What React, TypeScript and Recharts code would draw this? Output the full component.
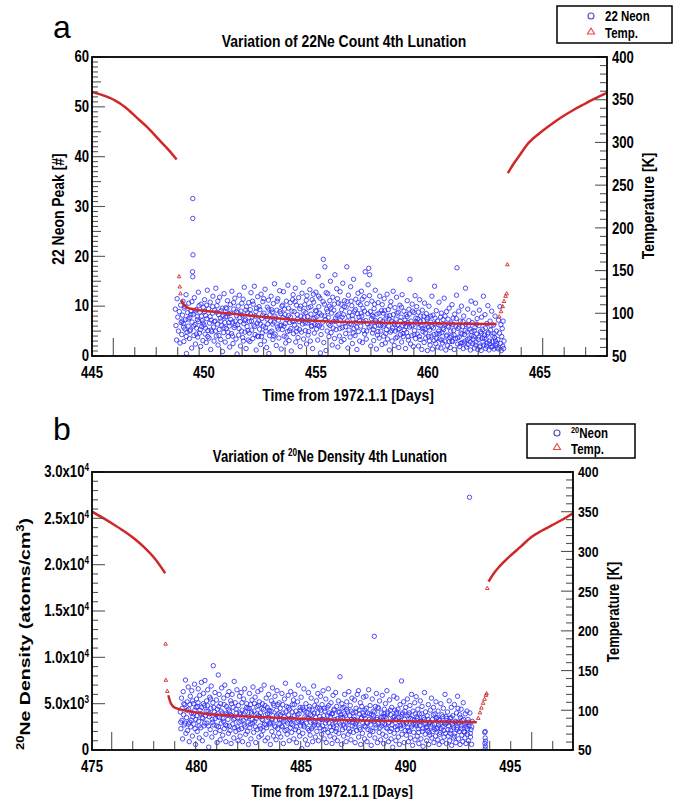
import React from 'react';
import { ScatterChart, Scatter, XAxis, YAxis } from 'recharts';

const RED = '#d02828';
const BLUE = '#2f2ff5';
const TICK = '#555';
const FONT = "'Liberation Sans', Arial, sans-serif";
const NARROW = 0.82; // the reference uses a condensed face

// ---------- panel a : 22Ne count ----------
const neonA = [
  [448.72,9.4],[448.75,6.1],[448.78,3.2],[448.8,11.5],[448.83,7.8],[448.86,5.0],[448.9,8.9],[448.93,2.6],[448.96,10.2],[448.98,6.7],
  [449.01,4.3],[449.04,8.2],[449.06,11.0],[449.08,6.5],[449.1,2.9],[449.12,9.6],[449.15,5.4],[449.17,7.3],[449.2,12.3],[449.22,0.5],[449.24,4.8],[449.27,8.7],[449.3,6.0],[449.32,10.6],[449.35,3.5],[449.37,7.7],[449.4,5.2],[449.42,9.0],[449.45,1.6],[449.47,6.8],[449.5,31.6],[449.5,27.6],[449.51,20.3],[449.49,16.9],[449.5,15.9],
  [449.52,8.4],[449.55,4.1],[449.57,11.7],[449.6,6.3],[449.62,2.4],[449.65,9.3],[449.67,5.6],[449.7,7.9],[449.72,3.8],[449.75,12.8],[449.77,6.9],[449.8,4.6],[449.82,8.8],[449.85,1.9],[449.87,10.4],[449.9,5.9],[449.92,7.1],[449.95,3.1],[449.97,9.8],
  [450.0,6.2],[450.03,11.3],[450.05,4.4],[450.08,8.1],[450.1,2.7],[450.13,7.5],[450.15,13.2],[450.18,5.1],[450.2,9.5],[450.23,3.6],[450.25,6.6],[450.28,10.8],[450.3,1.3],[450.33,7.2],[450.35,4.9],[450.38,8.6],[450.4,12.0],[450.43,5.8],[450.45,3.0],[450.48,9.2],
  [450.5,7.0],[450.53,13.6],[450.55,4.0],[450.58,10.1],[450.6,6.4],[450.63,2.2],[450.65,8.3],[450.68,5.3],[450.7,11.8],[450.73,7.6],[450.75,3.3],[450.78,9.1],[450.8,6.1],[450.83,0.9],[450.85,8.0],[450.88,4.7],[450.9,12.5],[450.93,6.7],[450.95,2.8],[450.98,9.7],
  [451.0,5.5],[451.03,7.9],[451.05,11.1],[451.08,3.9],[451.1,8.5],[451.13,6.0],[451.15,1.8],[451.18,10.3],[451.2,7.3],[451.23,4.5],[451.25,13.0],[451.28,6.8],[451.3,2.5],[451.33,9.4],[451.35,5.7],[451.38,11.6],[451.4,7.0],[451.43,3.4],[451.45,8.9],[451.48,0.4],
  [451.5,6.3],[451.53,10.0],[451.55,4.2],[451.58,12.2],[451.6,7.7],[451.63,2.0],[451.65,9.0],[451.68,5.0],[451.7,8.2],[451.73,3.7],[451.75,11.4],[451.78,6.5],[451.8,13.8],[451.83,4.8],[451.85,7.4],[451.88,1.5],[451.9,9.9],[451.93,5.9],[451.95,8.7],[451.98,3.2],
  [452.0,10.7],[452.03,6.9],[452.05,2.9],[452.08,8.4],[452.1,12.7],[452.13,5.2],[452.15,7.8],[452.18,3.5],[452.2,10.4],[452.23,6.2],[452.25,14.0],[452.28,4.3],[452.3,8.0],[452.33,1.2],[452.35,9.6],[452.38,6.6],[452.4,11.9],[452.43,3.9],[452.45,7.1],[452.48,5.4],
  [452.5,9.3],[452.53,2.3],[452.55,12.4],[452.58,7.5],[452.6,4.6],[452.63,10.9],[452.65,6.0],[452.68,8.6],[452.7,3.0],[452.73,13.4],[452.75,5.7],[452.78,7.9],[452.8,1.7],[452.83,9.8],[452.85,6.4],[452.88,11.2],[452.9,0.5],[452.93,4.1],[452.95,8.3],[452.98,7.0],
  [453.0,12.0],[453.03,5.0],[453.05,8.8],[453.08,3.3],[453.1,10.5],[453.13,6.8],[453.15,14.5],[453.18,4.4],[453.2,7.6],[453.23,2.1],[453.25,9.2],[453.28,5.8],[453.3,11.5],[453.33,7.2],[453.35,3.6],[453.38,13.1],[453.4,6.1],[453.43,8.5],[453.45,1.4],[453.48,10.0],
  [453.5,5.3],[453.53,7.7],[453.55,12.9],[453.58,4.0],[453.6,9.4],[453.63,6.5],[453.65,2.6],[453.68,11.0],[453.7,7.3],[453.73,4.9],[453.75,14.2],[453.78,8.1],[453.8,3.1],[453.83,6.7],[453.85,10.7],[453.88,5.5],[453.9,1.0],[453.93,9.0],[453.95,7.0],[453.98,12.3],
  [454.0,4.5],[454.03,8.9],[454.05,6.2],[454.08,13.6],[454.1,2.8],[454.13,10.2],[454.15,5.6],[454.18,7.4],[454.2,3.7],[454.23,11.7],[454.25,6.9],[454.28,9.5],[454.3,1.9],[454.33,8.0],[454.35,4.8],[454.38,12.6],[454.4,6.4],[454.43,14.8],[454.45,3.4],[454.48,7.8],
  [454.5,10.3],[454.53,5.1],[454.55,8.7],[454.58,2.4],[454.6,12.1],[454.63,6.6],[454.65,4.2],[454.68,9.7],[454.7,7.1],[454.73,13.3],[454.75,3.0],[454.78,8.4],[454.8,5.9],[454.83,11.3],[454.85,1.5],[454.88,7.5],[454.9,10.8],[454.93,4.6],[454.95,6.3],[454.98,9.1],
  [455.0,12.8],[455.03,5.4],[455.05,7.9],[455.08,3.2],[455.1,16.0],[455.13,9.9],[455.15,6.0],[455.18,11.6],[455.2,0.6],[455.23,4.3],[455.25,8.2],[455.28,14.1],[455.3,6.8],[455.33,19.4],[455.35,2.7],[455.38,10.4],[455.4,17.9],[455.43,7.3],[455.45,1.1],[455.48,9.4],
  [455.5,5.0],[455.53,12.5],[455.55,7.7],[455.58,3.9],[455.6,10.0],[455.63,6.1],[455.65,15.0],[455.68,4.7],[455.7,8.6],[455.73,2.2],[455.75,11.8],[455.78,6.9],[455.8,9.2],[455.83,3.5],[455.85,16.3],[455.88,7.6],[455.9,5.3],[455.93,13.5],[455.95,8.1],[455.98,1.8],
  [456.0,10.6],[456.03,6.4],[456.05,4.0],[456.08,12.9],[456.1,7.2],[456.13,2.9],[456.15,9.3],[456.18,5.7],[456.2,14.6],[456.23,8.3],[456.25,3.3],[456.28,11.1],[456.3,6.6],[456.33,4.5],[456.35,9.8],[456.38,17.9],[456.4,7.0],[456.43,1.6],[456.45,12.2],[456.48,5.2],
  [456.5,8.8],[456.53,3.8],[456.55,13.9],[456.58,6.3],[456.6,10.1],[456.63,2.5],[456.65,7.4],[456.68,15.4],[456.7,5.5],[456.73,9.0],[456.75,4.1],[456.78,11.4],[456.8,6.7],[456.83,1.3],[456.85,8.5],[456.88,12.6],[456.9,4.9],[456.93,7.8],[456.95,3.0],[456.98,10.3],
  [457.0,6.0],[457.03,13.0],[457.05,8.0],[457.08,2.7],[457.1,9.6],[457.13,5.1],[457.15,11.9],[457.18,4.4],[457.2,16.9],[457.23,7.1],[457.25,3.4],[457.28,10.5],[457.3,6.5],[457.33,14.3],[457.36,17.6],[457.38,5.8],[457.4,16.3],[457.43,8.9],[457.45,2.0],[457.48,7.5],
  [457.5,11.0],[457.53,4.6],[457.55,7.9],[457.58,3.1],[457.6,9.5],[457.63,5.9],[457.65,13.2],[457.68,6.8],[457.7,1.4],[457.73,8.4],[457.75,4.2],[457.78,10.7],[457.8,6.2],[457.83,3.6],[457.85,12.0],[457.88,7.3],[457.9,5.0],[457.93,9.1],[457.95,2.3],[457.98,6.9],
  [458.0,8.6],[458.03,4.0],[458.05,11.5],[458.08,6.4],[458.1,2.6],[458.13,7.6],[458.15,5.3],[458.18,12.4],[458.2,3.4],[458.23,9.3],[458.25,6.0],[458.28,1.2],[458.3,8.1],[458.33,4.8],[458.35,10.9],[458.38,7.0],[458.4,3.0],[458.43,5.6],[458.45,13.0],[458.48,6.6],
  [458.5,2.1],[458.53,9.7],[458.55,5.0],[458.58,7.4],[458.6,11.8],[458.63,3.8],[458.65,6.3],[458.68,8.8],[458.7,1.7],[458.73,5.5],[458.75,10.2],[458.78,4.3],[458.8,7.8],[458.83,2.8],[458.85,12.3],[458.88,6.1],[458.9,3.9],[458.93,9.0],[458.95,5.2],[458.98,7.2],
  [459.0,1.5],[459.03,8.3],[459.05,4.7],[459.08,11.1],[459.1,6.7],[459.13,3.2],[459.15,9.4],[459.18,5.8],[459.2,15.4],[459.23,2.4],[459.25,7.0],[459.28,4.1],[459.3,10.4],[459.33,6.2],[459.35,1.9],[459.38,8.7],[459.4,5.1],[459.43,12.1],[459.45,3.5],[459.48,6.9],
  [459.5,9.9],[459.53,4.4],[459.55,7.5],[459.58,2.0],[459.6,5.7],[459.63,11.3],[459.65,3.3],[459.68,8.0],[459.7,6.0],[459.73,1.3],[459.75,9.2],[459.78,4.9],[459.8,7.1],[459.83,2.7],[459.85,10.6],[459.88,5.4],[459.9,3.6],[459.93,8.5],[459.95,6.4],[459.98,1.1],
  [460.0,7.7],[460.03,3.9],[460.05,10.0],[460.08,5.2],[460.1,2.2],[460.13,6.8],[460.15,4.0],[460.18,12.0],[460.2,1.4],[460.23,8.2],[460.25,5.6],[460.28,3.1],[460.3,14.0],[460.33,6.5],[460.35,2.5],[460.38,9.1],[460.4,4.5],[460.43,7.0],[460.45,1.8],[460.48,5.0],
  [460.5,10.8],[460.53,3.4],[460.55,6.1],[460.58,1.6],[460.6,8.6],[460.63,4.7],[460.65,2.6],[460.68,7.3],[460.7,5.3],[460.73,11.6],[460.75,3.0],[460.78,6.4],[460.8,1.2],[460.83,8.9],[460.85,4.2],[460.88,2.1],[460.9,7.4],[460.93,5.8],[460.95,9.6],[460.98,3.7],
  [461.0,1.7],[461.03,6.6],[461.05,4.0],[461.08,10.3],[461.1,2.9],[461.13,7.6],[461.15,5.1],[461.18,1.3],[461.2,8.4],[461.23,3.5],[461.25,6.0],[461.28,12.2],[461.3,17.7],[461.33,2.4],[461.35,5.5],[461.38,9.0],[461.4,3.8],[461.43,1.9],[461.45,7.0],[461.48,4.6],
  [461.5,10.0],[461.53,2.7],[461.55,5.9],[461.58,1.5],[461.6,8.0],[461.63,4.3],[461.65,3.0],[461.68,13.6],[461.7,6.3],[461.73,1.8],[461.75,4.8],[461.78,9.4],[461.8,2.3],[461.83,7.1],[461.85,3.6],[461.88,5.4],[461.9,1.2],[461.93,11.0],[461.95,4.1],[461.98,6.7],
  [462.0,2.5],[462.03,8.6],[462.05,3.9],[462.08,1.6],[462.1,5.7],[462.13,10.6],[462.15,2.8],[462.18,4.4],[462.2,7.5],[462.23,1.3],[462.25,3.3],[462.28,6.1],[462.3,9.2],[462.33,2.0],[462.35,4.9],[462.38,1.1],[462.4,7.8],[462.43,3.6],[462.45,5.3],[462.48,12.0],
  [462.5,2.2],[462.53,4.2],[462.55,8.3],[462.58,1.5],[462.6,3.4],[462.63,6.5],[462.65,2.6],[462.68,10.1],[462.7,4.7],[462.73,1.2],[462.75,3.0],[462.78,7.0],[462.8,5.2],[462.83,1.8],[462.85,9.0],[462.88,2.9],[462.9,4.0],[462.93,6.2],[462.95,1.4],[462.98,3.7],[463.0,8.0],[463.03,2.1],[463.06,5.0],[463.09,1.6],
  [463.12,3.3],[463.15,7.2],[463.17,1.4],[463.2,4.6],[463.22,9.9],[463.24,2.5],[463.26,6.3],[463.28,1.1],[463.3,3.9],[463.32,5.5],[463.34,2.0],[463.36,7.0],[463.38,1.5],[463.4,3.0],
  // denser core of the cloud
  [449.02,7.0],[449.09,5.8],[449.16,9.9],[449.21,3.9],[449.29,7.4],[449.36,5.0],[449.41,8.3],[449.46,10.9],
  [449.54,6.0],[449.61,9.0],[449.66,4.4],[449.71,7.3],[449.78,10.1],[449.84,5.3],[449.89,8.0],[449.96,6.6],
  [450.02,8.9],[450.07,5.6],[450.12,10.2],[450.17,3.9],[450.27,7.9],[450.32,5.2],[450.39,9.9],[450.46,6.9],
  [450.52,5.0],[450.57,8.8],[450.62,11.0],[450.67,4.1],[450.76,7.0],[450.82,9.6],[450.89,5.7],[450.96,7.8],
  [451.02,9.5],[451.07,4.8],[451.12,6.7],[451.19,8.6],[451.27,4.0],[451.32,10.7],[451.39,6.1],[451.46,8.1],
  [451.52,8.7],[451.57,5.5],[451.62,6.9],[451.69,10.6],[451.76,3.0],[451.82,7.1],[451.87,9.2],[451.96,5.1],
  [452.02,4.6],[452.07,9.3],[452.12,7.0],[452.17,11.0],[452.27,5.9],[452.32,8.9],[452.39,4.0],[452.46,9.9],
  [452.52,6.4],[452.57,3.9],[452.62,8.2],[452.67,11.5],[452.77,5.0],[452.82,7.4],[452.89,9.4],[452.96,4.8],
  [453.02,9.3],[453.07,6.4],[453.12,4.0],[453.17,8.0],[453.27,11.0],[453.32,5.4],[453.39,8.9],[453.46,6.2],
  [453.52,10.2],[453.57,6.0],[453.62,8.3],[453.67,3.8],[453.77,9.6],[453.82,5.1],[453.87,7.8],[453.96,11.3],
  [454.02,7.0],[454.07,10.9],[454.12,4.9],[454.17,8.3],[454.27,5.3],[454.32,10.0],[454.39,7.2],[454.46,9.0],
  [454.52,6.6],[454.57,11.2],[454.62,7.9],[454.67,4.9],[454.77,9.9],[454.82,6.1],[454.89,12.4],[454.96,7.7],
  [455.02,9.0],[455.07,6.2],[455.12,12.0],[455.17,8.6],[455.27,5.7],[455.32,10.9],[455.39,8.0],[455.46,12.7],
  [455.52,8.9],[455.57,6.4],[455.62,11.1],[455.67,9.6],[455.77,5.6],[455.82,10.4],[455.89,7.0],[455.96,11.5],
  [456.02,8.4],[456.07,5.5],[456.12,10.4],[456.17,7.8],[456.27,9.9],[456.32,5.9],[456.39,10.9],[456.46,8.0],
  [456.52,6.5],[456.57,11.0],[456.62,8.1],[456.67,4.6],[456.77,9.3],[456.82,5.8],[456.89,10.7],[456.96,7.1],
  [457.02,8.6],[457.07,11.4],[457.12,6.9],[457.17,9.0],[457.27,5.0],[457.32,8.5],[457.39,12.1],[457.46,6.0],
  [457.52,8.2],[457.57,5.3],[457.62,10.4],[457.67,7.1],[457.77,4.9],[457.82,8.6],[457.89,6.1],[457.96,10.3],
  [458.02,6.0],[458.07,9.1],[458.12,4.5],[458.17,8.0],[458.27,7.4],[458.32,10.0],[458.39,5.1],[458.46,8.3],
  [458.52,6.3],[458.57,3.6],[458.62,8.6],[458.67,5.3],[458.77,7.0],[458.82,9.8],[458.89,4.5],[458.96,6.5],
  [459.02,5.9],[459.07,7.9],[459.12,3.9],[459.17,8.4],[459.27,6.0],[459.32,9.0],[459.39,4.3],[459.46,7.6],
  [459.52,6.6],[459.57,8.8],[459.62,3.9],[459.67,6.9],[459.77,5.5],[459.82,8.0],[459.89,4.6],[459.96,7.4],
  [460.02,5.8],[460.07,3.0],[460.12,8.0],[460.17,5.9],[460.27,4.3],[460.32,7.6],[460.39,3.5],[460.46,6.3],
  [460.52,4.5],[460.57,7.8],[460.62,3.2],[460.67,5.6],[460.77,8.0],[460.82,4.0],[460.89,6.0],[460.96,2.9],
  [461.02,5.0],[461.07,3.0],[461.12,6.3],[461.17,4.2],[461.27,7.5],[461.32,3.6],[461.39,5.8],[461.46,2.5],
  [461.52,4.4],[461.57,6.9],[461.62,2.6],[461.67,5.1],[461.77,3.3],[461.82,6.0],[461.89,2.8],[461.96,4.9],
  [462.02,3.4],[462.07,5.1],[462.12,2.2],[462.17,6.4],[462.27,3.8],[462.32,1.8],[462.39,4.6],[462.46,2.8],
  [462.52,3.6],[462.57,5.6],[462.62,2.0],[462.67,4.4],[462.77,2.4],[462.82,6.1],[462.89,1.9],[462.96,4.5],[463.02,3.0],[463.08,2.5],
];

const tempA1 = [[445,359],[445.5,355],[446,349.5],[446.5,341],[447,329],[447.5,317],[448,303],[448.5,289],[448.78,280]];
const tempA2 = [[449.0,115.6],[449.1,110],[449.23,107],[449.5,105],[449.82,103.5],[450.5,101.5],[451.3,99.5],[452,97.5],[453,94.8],[454,92.5],[455,91.2],[456,90.1],[457,89.5],[458,89],[459,88.6],[460,88.3],[461,88],[462,87.7],[463.07,87.5]];
const tempA3 = [[463.57,264],[463.83,275],[464.1,285],[464.42,297],[465,311],[465.5,321],[466,330],[466.5,338],[467,345],[467.5,352],[468,358]];
const tempADots = [[448.89,143],[448.92,131],[448.95,123],[463.19,96],[463.27,102],[463.34,108],[463.4,114],[463.47,120],[463.52,123],[463.55,157]];

// ---------- panel b : 20Ne density ----------
const neonB = [
  [479.22,4100],[479.25,2300],[479.28,5600],[479.3,3200],[479.33,1200],[479.36,6300],[479.38,3800],[479.41,2700],[479.44,4900],[479.47,7550],[479.49,1800],
  [479.52,3500],[479.55,5200],[479.57,2100],[479.6,6800],[479.62,4400],[479.65,900],[479.67,3000],[479.7,5800],[479.72,2500],[479.75,4000],[479.77,6400],[479.8,1500],[479.82,3600],[479.85,5000],[479.87,2800],[479.9,7100],[479.92,4300],[479.95,600],[479.97,3300],
  [480.0,5500],[480.03,2000],[480.05,4700],[480.08,6600],[480.1,3100],[480.13,1300],[480.15,5900],[480.18,3900],[480.2,2400],[480.23,7300],[480.25,4600],[480.28,1000],[480.3,3400],[480.33,6100],[480.35,2600],[480.38,4800],[480.4,7500],[480.43,3700],[480.45,1700],[480.48,5300],
  [480.5,2900],[480.53,6500],[480.55,4200],[480.58,300],[480.6,3600],[480.63,5700],[480.65,2200],[480.68,4500],[480.7,6900],[480.73,1400],[480.75,3300],[480.78,5100],[480.8,9100],[480.83,2700],[480.85,4100],[480.88,6200],[480.9,1900],[480.93,3800],[480.95,5400],[480.98,800],
  [481.0,4400],[481.04,8100],[481.05,2500],[481.08,6000],[481.1,3500],[481.13,1100],[481.15,5000],[481.18,2900],[481.2,6700],[481.23,4000],[481.25,1600],[481.28,3100],[481.3,5600],[481.33,2300],[481.35,7000],[481.38,3900],[481.4,900],[481.43,4700],[481.45,2600],[481.48,5900],
  [481.5,3300],[481.53,1800],[481.55,6300],[481.58,4200],[481.6,2100],[481.63,5300],[481.65,700],[481.68,3700],[481.7,6000],[481.73,2800],[481.75,4600],[481.78,1300],[481.8,7400],[481.83,3400],[481.85,5100],[481.88,2000],[481.9,4000],[481.93,6500],[481.95,2500],[481.98,1000],
  [482.0,4800],[482.03,3000],[482.05,5800],[482.08,1500],[482.1,3800],[482.13,6200],[482.15,2300],[482.18,4300],[482.2,900],[482.23,3200],[482.25,5500],[482.28,2700],[482.3,6600],[482.33,4100],[482.35,1700],[482.38,3500],[482.4,5000],[482.43,2000],[482.45,4500],[482.48,600],
  [482.5,3600],[482.53,6100],[482.55,2400],[482.58,4900],[482.6,1200],[482.63,3900],[482.65,5400],[482.68,2900],[482.7,6800],[482.73,1900],[482.75,4200],[482.78,3100],[482.8,5700],[482.83,800],[482.85,3400],[482.88,4700],[482.9,2200],[482.93,6300],[482.95,3700],[482.98,1400],
  [483.0,5200],[483.03,2600],[483.05,4000],[483.08,6500],[483.1,1600],[483.13,3300],[483.15,5000],[483.18,2100],[483.2,4400],[483.23,7000],[483.25,2800],[483.28,1000],[483.3,3800],[483.33,5600],[483.35,2400],[483.38,4600],[483.4,1300],[483.43,3500],[483.45,6000],[483.48,2900],
  [483.5,4200],[483.53,600],[483.55,3000],[483.58,5300],[483.6,2000],[483.63,6700],[483.65,3700],[483.68,1500],[483.7,4800],[483.73,2600],[483.75,5800],[483.78,3200],[483.8,1100],[483.83,4300],[483.85,6400],[483.88,2300],[483.9,3900],[483.93,1800],[483.95,5100],[483.98,2800],
  [484.0,4500],[484.03,1400],[484.05,3300],[484.08,6100],[484.1,2500],[484.13,4000],[484.15,700],[484.18,3600],[484.2,5500],[484.23,2100],[484.25,7200],[484.28,3100],[484.3,4700],[484.33,1700],[484.35,2900],[484.38,5900],[484.4,3800],[484.43,1000],[484.45,4400],[484.48,2400],
  [484.5,6300],[484.53,3400],[484.55,1900],[484.58,4900],[484.6,2700],[484.63,5400],[484.65,1200],[484.68,3700],[484.7,6000],[484.73,2200],[484.75,4200],[484.78,800],[484.8,3000],[484.83,5200],[484.87,7000],[484.88,2000],[484.9,3900],[484.93,1500],[484.95,4600],[484.98,2600],
  [485.0,5700],[485.03,150],[485.05,3200],[485.08,1800],[485.1,4400],[485.13,6600],[485.15,2500],[485.18,3600],[485.2,1100],[485.23,5000],[485.25,2900],[485.28,4100],[485.3,600],[485.33,3400],[485.35,6200],[485.38,2100],[485.4,4700],[485.43,1600],[485.45,3800],[485.48,5600],
  [485.5,2300],[485.53,4300],[485.55,900],[485.58,3100],[485.6,6900],[485.63,2700],[485.65,4800],[485.68,1400],[485.7,3500],[485.73,5300],[485.75,2000],[485.78,4000],[485.8,6100],[485.83,1000],[485.85,3000],[485.88,4500],[485.9,2400],[485.93,5800],[485.95,3300],[485.98,1700],
  [486.0,4900],[486.03,2600],[486.05,6400],[486.08,3700],[486.1,1200],[486.13,4200],[486.15,2200],[486.18,5500],[486.2,800],[486.23,3200],[486.25,4600],[486.28,1900],[486.3,6600],[486.33,2900],[486.35,4000],[486.38,1500],[486.4,3600],[486.43,5100],[486.45,2100],[486.48,700],
  [486.5,3900],[486.53,5900],[486.55,2500],[486.58,4400],[486.6,1300],[486.63,3000],[486.65,6200],[486.68,2300],[486.7,4700],[486.73,1000],[486.75,3400],[486.78,5300],[486.8,1800],[486.83,4100],[486.86,7900],[486.88,2700],[486.9,3800],[486.93,600],[486.95,5000],[486.98,2200],
  [487.0,3500],[487.03,1500],[487.05,4600],[487.08,6000],[487.1,2400],[487.13,3700],[487.15,900],[487.18,5200],[487.2,2900],[487.23,4200],[487.25,1700],[487.28,6300],[487.3,3100],[487.33,2000],[487.35,4800],[487.38,1100],[487.4,3300],[487.43,5600],[487.45,2600],[487.48,4000],
  [487.5,1900],[487.53,3600],[487.55,5400],[487.58,800],[487.6,2800],[487.63,4500],[487.65,2100],[487.68,6000],[487.7,3200],[487.74,6400],[487.75,1400],[487.78,3900],[487.8,2400],[487.83,5100],[487.85,600],[487.88,3400],[487.9,4700],[487.93,1800],[487.95,2900],[487.98,5700],
  [488.0,3700],[488.03,1200],[488.05,4300],[488.08,2500],[488.1,5800],[488.13,3000],[488.15,900],[488.18,4000],[488.2,2200],[488.23,6500],[488.25,3300],[488.28,1600],[488.3,4800],[488.33,2700],[488.35,500],[488.38,3800],[488.4,5500],[488.43,2000],[488.45,4200],[488.5,12270],
  [488.5,3100],[488.53,1300],[488.55,4700],[488.58,2400],[488.6,6100],[488.63,3500],[488.65,800],[488.68,2900],[488.7,4500],[488.73,1900],[488.75,5300],[488.78,3200],[488.8,1100],[488.83,4000],[488.85,2600],[488.88,5900],[488.9,1700],[488.93,3600],[488.95,700],[488.98,4400],
  [489.0,2800],[489.03,5000],[489.05,1500],[489.08,3400],[489.1,6400],[489.13,2300],[489.15,4100],[489.18,900],[489.2,3000],[489.23,5400],[489.25,2000],[489.28,3800],[489.3,1200],[489.33,4600],[489.35,2700],[489.38,300],[489.4,3500],[489.43,5800],[489.45,1800],[489.48,4300],
  [489.5,2500],[489.53,1000],[489.55,3900],[489.58,5600],[489.6,2200],[489.63,4400],[489.65,1400],[489.68,3100],[489.7,600],[489.73,4900],[489.75,2600],[489.78,3600],[489.8,7450],[489.82,1700],[489.85,4000],[489.88,2900],[489.9,5200],[489.93,800],[489.95,3300],[489.98,2100],
  [490.0,4600],[490.03,1600],[490.05,3000],[490.08,5500],[490.1,2400],[490.13,900],[490.15,3800],[490.18,2000],[490.2,4800],[490.23,1300],[490.25,3400],[490.28,6000],[490.3,2700],[490.33,500],[490.35,4200],[490.38,1900],[490.4,3200],[490.43,5100],[490.45,1100],[490.48,2800],
  [490.5,5750],[490.53,3600],[490.55,1500],[490.58,4400],[490.6,2300],[490.63,700],[490.65,3900],[490.68,2600],[490.7,5300],[490.73,1200],[490.75,3100],[490.78,4700],[490.8,2000],[490.83,400],[490.85,3500],[490.88,2900],[490.9,6200],[490.93,1700],[490.95,4100],[490.98,2400],
  [491.0,1000],[491.03,3700],[491.05,2100],[491.08,4900],[491.1,600],[491.13,3000],[491.15,1600],[491.18,4300],[491.2,2500],[491.23,5600],[491.25,1300],[491.28,3300],[491.3,2000],[491.33,4600],[491.35,800],[491.38,2800],[491.4,3900],[491.43,1500],[491.45,5200],[491.48,2300],
  [491.5,3500],[491.53,1100],[491.55,4200],[491.58,2700],[491.6,600],[491.63,3200],[491.65,1900],[491.68,5000],[491.7,2300],[491.73,3800],[491.75,900],[491.78,2500],[491.8,4500],[491.83,1400],[491.85,3000],[491.88,6000],[491.9,1800],[491.93,3600],[491.95,700],[491.98,2900],
  [492.0,4100],[492.03,1500],[492.05,2600],[492.08,5300],[492.1,1000],[492.13,3400],[492.15,2100],[492.18,4600],[492.2,500],[492.23,2800],[492.25,3700],[492.28,1300],[492.3,2400],[492.33,4900],[492.35,1800],[492.38,3100],[492.4,800],[492.43,4000],[492.45,2200],[492.48,5800],
  [492.5,4500],[492.53,1200],[492.55,2900],[492.58,3800],[492.6,600],[492.63,2300],[492.65,4400],[492.68,1600],[492.7,3200],[492.73,900],[492.75,5100],[492.78,2000],[492.8,2700],[492.83,1300],[492.85,3900],[492.88,700],[492.9,2500],[492.93,4200],[492.95,1700],[492.98,3300],[493.0,1000],[493.03,2600],[493.05,27270],[493.07,4000],[493.1,1400],[493.12,2200],[493.15,600],[493.18,3100],
  [493.78,1900],[493.8,2000],[493.8,1300],[493.79,700],[493.81,400],[493.8,100],[493.82,950],
  // denser core of the cloud
  [479.24,3000],[479.31,4500],[479.39,5000],[479.46,2900],
  [479.54,4300],[479.61,2800],[479.68,4900],[479.74,3200],[479.81,5300],[479.86,3900],[479.93,2300],[479.98,4600],
  [480.02,3700],[480.07,5100],[480.12,2600],[480.17,4300],[480.27,3500],[480.32,5000],[480.39,2900],[480.46,4200],
  [480.52,4800],[480.57,2600],[480.62,3900],[480.67,5500],[480.77,3000],[480.82,4600],[480.89,3400],[480.96,2600],
  [481.02,3600],[481.07,4700],[481.12,2100],[481.17,4200],[481.27,3400],[481.32,4900],[481.39,2700],[481.46,3800],
  [481.52,4400],[481.57,2600],[481.62,3800],[481.67,5000],[481.77,3300],[481.82,2400],[481.89,4400],[481.96,3500],
  [482.02,2200],[482.07,4000],[482.12,3100],[482.17,5100],[482.27,3900],[482.32,2500],[482.39,4600],[482.46,3000],
  [482.52,4500],[482.57,2800],[482.62,4100],[482.67,3300],[482.77,5000],[482.82,2500],[482.89,3900],[482.96,4800],
  [483.02,3600],[483.07,2300],[483.12,4500],[483.17,3200],[483.27,4800],[483.32,2700],[483.39,3900],[483.46,4300],
  [483.52,2800],[483.57,4200],[483.62,3300],[483.67,5000],[483.77,2500],[483.82,3700],[483.89,4900],[483.96,3300],
  [484.02,3800],[484.07,2600],[484.12,4900],[484.17,3100],[484.27,4100],[484.32,2200],[484.39,4600],[484.46,3300],
  [484.52,2800],[484.57,4100],[484.62,3300],[484.67,4900],[484.77,2500],[484.82,3800],[484.89,3100],[484.96,4300],
  [485.02,3000],[485.07,4600],[485.12,2700],[485.17,4200],[485.27,3500],[485.32,2300],[485.39,4400],[485.46,3000],
  [485.52,3700],[485.57,2500],[485.62,4000],[485.67,3000],[485.77,4600],[485.82,2700],[485.89,3600],[485.96,4300],
  [486.02,3300],[486.07,2200],[486.12,4500],[486.17,2900],[486.27,3700],[486.32,4800],[486.39,2500],[486.46,3900],
  [486.52,2800],[486.57,4300],[486.62,3300],[486.67,2000],[486.77,4100],[486.82,2900],[486.89,3500],[486.96,4500],
  [487.02,2700],[487.07,3900],[487.12,3000],[487.17,4400],[487.27,2300],[487.32,3700],[487.39,4200],[487.46,3000],
  [487.52,3300],[487.57,2500],[487.62,4100],[487.67,3000],[487.77,4300],[487.82,2200],[487.89,3500],[487.96,4000],
  [488.02,2600],[488.07,3400],[488.12,4500],[488.17,2900],[488.27,3900],[488.32,2100],[488.39,3200],[488.46,3700],
  [488.52,4100],[488.57,2700],[488.62,3300],[488.67,4600],[488.77,2400],[488.82,3500],[488.89,2900],[488.96,3900],
  [489.02,3600],[489.07,2400],[489.12,3900],[489.17,2900],[489.27,4300],[489.32,2300],[489.39,3200],[489.46,3600],
  [489.52,3300],[489.57,4100],[489.62,2600],[489.67,3500],[489.77,2300],[489.82,3800],[489.89,2700],[489.96,4200],
  [490.02,2900],[490.07,3700],[490.12,2100],[490.17,4000],[490.27,2500],[490.32,3300],[490.39,2800],[490.46,3900],
  [490.52,2600],[490.57,3400],[490.62,1900],[490.67,3100],[490.77,3900],[490.82,2300],[490.89,3300],[490.96,2800],
  [491.02,2500],[491.07,3300],[491.12,1900],[491.17,3000],[491.27,2700],[491.32,3800],[491.39,2200],[491.46,3400],
  [491.52,2400],[491.57,3300],[491.62,1700],[491.67,2900],[491.77,3600],[491.82,2100],[491.89,2800],[491.96,3400],
  [492.02,2200],[492.07,3100],[492.12,1800],[492.17,3500],[492.27,2600],[492.32,1500],[492.39,3000],[492.46,2400],
  [492.52,3000],[492.57,2000],[492.62,3500],[492.67,2600],[492.77,3300],[492.82,1900],[492.89,2900],[492.96,2300],[493.02,3000],[493.09,1800],[493.16,2500],
];

const tempB1 = [[475,350],[475.5,342.5],[476,334.5],[476.5,326],[477,316.5],[477.5,305],[478,291],[478.5,272.5]];
const tempB2 = [[478.65,119],[478.75,110],[478.89,104.5],[479.1,102],[479.37,100.4],[480.17,96.2],[481,94.3],[482,92.7],[483,91.4],[484,90.4],[485,89.5],[486,88.5],[487,87.8],[488,87.2],[489,86.7],[490,86.3],[491,85.9],[492,85.5],[493,85.2],[493.4,85]];
const tempB3 = [[493.96,262],[494.2,272],[494.5,281.5],[495,294.5],[495.5,306],[496,318],[496.5,326],[497,333],[497.46,339.6],[498,348]];
const tempBDots = [[478.52,183.5],[478.53,138],[478.6,124],[493.47,90],[493.55,97],[493.62,103],[493.7,109],[493.77,114],[493.84,119],[493.87,121],[493.9,253.6]];

// ---------- axes ----------
const xTicksA = [445, 450, 455, 460, 465];
const xTicksB = [475, 480, 485, 490, 495];
const yMajorA = [0, 10, 20, 30, 40, 50, 60];
const yMajorB = [0, 5000, 10000, 15000, 20000, 25000, 30000];
const tMajor = [50, 100, 150, 200, 250, 300, 350, 400];

const range = (a: number, b: number, s: number) => {
  const out: number[] = [];
  for (let v = a; v <= b + 1e-9; v += s) out.push(Math.round(v * 1000) / 1000);
  return out;
};
const yMinorA = range(0, 60, 1);
const yMinorB = range(0, 30000, 1000);
const tMinor = range(50, 400, 10);
const marksA = range(0, 22, 1);
const marksB = range(0, 21, 1);

const pts = (arr: number[][]) => arr.map(([x, y]) => ({ x, y }));

// condensed bold text (Liberation Sans squeezed horizontally)
const NText = ({ x, y, size, anchor = 'start', rot = false, children }: any) => (
  <text
    transform={`translate(${x},${y})${rot ? ' rotate(-90)' : ''} scale(${NARROW},1)`}
    textAnchor={anchor}
    fontFamily={FONT}
    fontWeight="bold"
    fontSize={size}
    fill="#000"
  >
    {children}
  </text>
);

const NeonDot = (p: any) => (
  <circle cx={p.cx} cy={p.cy} r={2.2} fill="none" stroke={BLUE} strokeOpacity={0.85} strokeWidth={1} />
);
const TriDot = (p: any) => (
  <path d={`M${p.cx},${p.cy - 2} L${p.cx + 1.8},${p.cy + 1.2} L${p.cx - 1.8},${p.cy + 1.2} Z`} fill="none" stroke={RED} strokeWidth={0.9} />
);
const NoDot = () => <g />;

const sciLabel = (v: number) => {
  if (v === 0) return '0';
  const e = Math.floor(Math.log10(v));
  const m = (v / Math.pow(10, e)).toFixed(1);
  return (
    <>
      <tspan>{m}x10</tspan>
      <tspan dy={-6} fontSize={10}>{e}</tspan>
    </>
  );
};

const leftTick = (major: number[], half: number, fs: number, fmt: (v: number) => any) => (p: any) => {
  const v = p.payload.value;
  const isMajor = major.includes(v);
  const len = isMajor ? 13 : v % half === 0 ? 9 : 6;
  return (
    <g>
      <line x1={p.x} x2={p.x + len} y1={p.y} y2={p.y} stroke={TICK} strokeWidth={1.1} />
      {isMajor && (
        <NText x={p.x - 3} y={p.y + fs * 0.33} size={fs} anchor="end">
          {fmt(v)}
        </NText>
      )}
    </g>
  );
};

const rightTick = (fs: number) => (p: any) => {
  const v = p.payload.value;
  const isMajor = tMajor.includes(v);
  return (
    <g>
      <line x1={p.x} x2={p.x - (isMajor ? 12 : 7)} y1={p.y} y2={p.y} stroke={TICK} strokeWidth={1.1} />
      {isMajor && (
        <NText x={p.x + 5} y={p.y + fs * 0.36} size={fs}>
          {v}
        </NText>
      )}
    </g>
  );
};

const bottomLabel = (fs: number, dy: number) => (p: any) => (
  <NText x={p.x} y={p.y + dy} size={fs} anchor="middle">
    {p.payload.value}
  </NText>
);

const bottomMark = (p: any) => (
  <line x1={p.x} x2={p.x} y1={p.y - 1} y2={p.y - 1 - (p.payload.value % 10 === 0 ? 18 : 9)} stroke={TICK} strokeWidth={1.1} />
);

const axisBase = { tickSize: 0, tickMargin: 0, tickLine: false, axisLine: false, interval: 0 as const, allowDataOverflow: true };
const tempLine = { stroke: RED, strokeWidth: 2.5 };

export default function App() {
  return (
    <div style={{ position: 'absolute', left: 0, top: 0, width: 678, height: 799, background: '#fff' }}>
      <div style={{ position: 'absolute', left: 0, top: 0 }}>
        <ScatterChart width={678} height={410} margin={{ top: 57, right: 70, bottom: 52, left: 91 }}>
          <XAxis type="number" dataKey="x" domain={[445, 468]} ticks={xTicksA} height={1} tick={bottomLabel(16, 21.5)} {...axisBase} />
          <XAxis xAxisId="marks" type="number" dataKey="x" domain={[-0.992, 22.995]} ticks={marksA} height={1} tick={bottomMark} {...axisBase} />
          <YAxis yAxisId="l" type="number" dataKey="y" domain={[0, 60]} ticks={yMinorA} width={1} tick={leftTick(yMajorA, 5, 16, (v) => v)} {...axisBase} />
          <YAxis yAxisId="r" orientation="right" type="number" dataKey="y" domain={[50, 400]} ticks={tMinor} width={1} tick={rightTick(16)} {...axisBase} />
          <Scatter yAxisId="l" data={pts(neonA)} shape={NeonDot} isAnimationActive={false} />
          <Scatter yAxisId="r" data={pts(tempA1)} shape={NoDot} line={tempLine} lineJointType="monotoneX" isAnimationActive={false} />
          <Scatter yAxisId="r" data={pts(tempA2)} shape={NoDot} line={tempLine} lineJointType="monotoneX" isAnimationActive={false} />
          <Scatter yAxisId="r" data={pts(tempA3)} shape={NoDot} line={tempLine} lineJointType="monotoneX" isAnimationActive={false} />
          <Scatter yAxisId="r" data={pts(tempADots)} shape={TriDot} isAnimationActive={false} />
        </ScatterChart>
      </div>
      <div style={{ position: 'absolute', left: 0, top: 410 }}>
        <ScatterChart width={678} height={389} margin={{ top: 62, right: 104, bottom: 47, left: 91 }}>
          <XAxis type="number" dataKey="x" domain={[475, 498]} ticks={xTicksB} height={1} tick={bottomLabel(16, 22)} {...axisBase} />
          <XAxis xAxisId="marks" type="number" dataKey="x" domain={[-0.938, 21.967]} ticks={marksB} height={1} tick={bottomMark} {...axisBase} />
          <YAxis yAxisId="l" type="number" dataKey="y" domain={[0, 30000]} ticks={yMinorB} width={1} tick={leftTick(yMajorB, 5000, 16, sciLabel)} {...axisBase} />
          <YAxis yAxisId="r" orientation="right" type="number" dataKey="y" domain={[50, 400]} ticks={tMinor} width={1} tick={rightTick(15)} {...axisBase} />
          <Scatter yAxisId="l" data={pts(neonB)} shape={NeonDot} isAnimationActive={false} />
          <Scatter yAxisId="r" data={pts(tempB1)} shape={NoDot} line={tempLine} lineJointType="monotoneX" isAnimationActive={false} />
          <Scatter yAxisId="r" data={pts(tempB2)} shape={NoDot} line={tempLine} lineJointType="monotoneX" isAnimationActive={false} />
          <Scatter yAxisId="r" data={pts(tempB3)} shape={NoDot} line={tempLine} lineJointType="monotoneX" isAnimationActive={false} />
          <Scatter yAxisId="r" data={pts(tempBDots)} shape={TriDot} isAnimationActive={false} />
        </ScatterChart>
      </div>

      {/* frames, titles, legends */}
      <svg width={678} height={799} style={{ position: 'absolute', left: 0, top: 0, pointerEvents: 'none' }}>
        <rect x={92} y={57} width={515} height={299} fill="none" stroke="#000" strokeWidth={1.8} />
        <rect x={92} y={472} width={481} height={278} fill="none" stroke="#000" strokeWidth={1.8} />

        <text x={53} y={38} fontFamily={FONT} fontSize={32} fill="#000">a</text>
        <text x={53} y={440} fontFamily={FONT} fontSize={32} fill="#000">b</text>

        <NText x={344} y={47} size={17} anchor="middle">Variation of 22Ne Count 4th Lunation</NText>
        <NText x={330} y={462} size={16} anchor="middle">
          Variation of <tspan fontSize={10} dy={-6}>20</tspan><tspan dy={6}>Ne Density 4th Lunation</tspan>
        </NText>

        <NText x={348} y={401} size={17} anchor="middle">Time from 1972.1.1 [Days]</NText>
        <NText x={332} y={797} size={16} anchor="middle">Time from 1972.1.1 [Days]</NText>

        <NText x={64} y={209} size={17} anchor="middle" rot>22 Neon Peak [#]</NText>
        <NText x={654} y={206} size={17} anchor="middle" rot>Temperature [K]</NText>
        <NText x={619} y={612} size={16} anchor="middle" rot>Temperature [K]</NText>
        <text
          transform="translate(30,634) rotate(-90)"
          textAnchor="middle"
          fontFamily={FONT}
          fontWeight="bold"
          fontSize={15}
          fill="#000"
          textLength={232}
          lengthAdjust="spacingAndGlyphs"
        >
          <tspan fontSize={10} dy={-6}>20</tspan><tspan dy={6}>Ne Density (atoms/cm</tspan><tspan fontSize={10} dy={-6}>3</tspan><tspan dy={6}>)</tspan>
        </text>

        <rect x={557} y={6} width={115} height={37} fill="#fff" stroke="#000" strokeWidth={1.5} />
        <circle cx={591} cy={16} r={3} fill="none" stroke="#5a44b8" strokeWidth={1.1} />
        <NText x={605} y={21} size={14}>22 Neon</NText>
        <path d="M591,28 L594.5,34 L587.5,34 Z" fill="none" stroke="#e04848" strokeWidth={1.1} />
        <NText x={605} y={37.5} size={14}>Temp.</NText>

        <rect x={527} y={424} width={108} height={34} fill="#fff" stroke="#000" strokeWidth={1.5} />
        <circle cx={557} cy={433} r={3} fill="none" stroke="#5a44b8" strokeWidth={1.1} />
        <NText x={571} y={438} size={14}>
          <tspan fontSize={9} dy={-5}>20</tspan><tspan dy={5}>Neon</tspan>
        </NText>
        <path d="M557,443.5 L560.5,449.5 L553.5,449.5 Z" fill="none" stroke="#e04848" strokeWidth={1.1} />
        <NText x={571} y={453.5} size={14}>Temp.</NText>
      </svg>
    </div>
  );
}
